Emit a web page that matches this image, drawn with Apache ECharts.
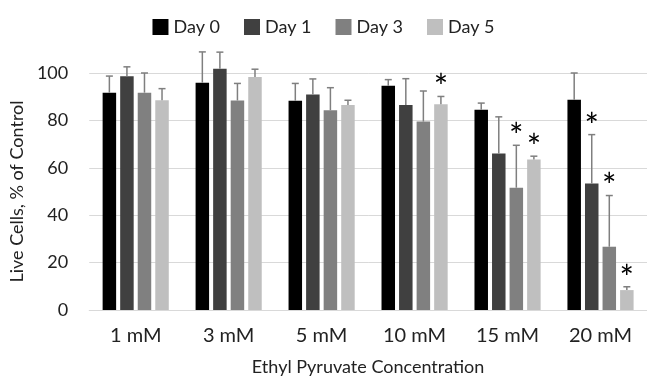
<!DOCTYPE html>
<html>
<head>
<meta charset="utf-8">
<script src="https://cdn.jsdelivr.net/npm/echarts@6/dist/echarts.min.js"></script>
<style>
html,body{margin:0;padding:0;background:#fff;}
#chart{width:647px;height:381px;}
</style>
</head>
<body>
<div id="chart"></div>
<script>
// categories / values
var categories = ['1 mM', '3 mM', '5 mM', '10 mM', '15 mM', '20 mM'];
var dayNames = ['Day 0', 'Day 1', 'Day 3', 'Day 5'];

var day0 = [91.7, 95.9, 88.3, 94.6, 84.5, 88.7];
var day1 = [98.6, 101.8, 90.9, 86.5, 66.0, 53.4];
var day3 = [91.7, 88.4, 84.3, 79.5, 51.6, 26.7];
var day5 = [88.5, 98.3, 86.5, 86.8, 63.5, 8.4];

// upper error (SD)
var day0Err = [7.0, 13.0, 7.3, 2.6, 2.8, 11.3];
var day1Err = [4.0, 7.0, 6.6, 11.1, 15.5, 20.6];
var day3Err = [8.3, 7.2, 9.5, 12.9, 17.9, 21.6];
var day5Err = [4.9, 3.3, 2.0, 3.3, 1.4, 1.4];

// significance stars
var day0Sig = [0, 0, 0, 0, 0, 0];
var day1Sig = [0, 0, 0, 0, 0, 1];
var day3Sig = [0, 0, 0, 0, 1, 1];
var day5Sig = [0, 0, 0, 1, 1, 1];

var yTicks = [0, 20, 40, 60, 80, 100];

var colors = ['#000000', '#404040', '#808080', '#bfbfbf'];
var font = 'Lato';
var barW = 13.5;
var barGapPx = 4.05;

var allVals = [day0, day1, day3, day5];
var allErr = [day0Err, day1Err, day3Err, day5Err];
var allSig = [day0Sig, day1Sig, day3Sig, day5Sig];

//error bar data: [cat, series, value, err, sig]
var errData = [];
for (var s = 0; s < 4; s++) {
	for (var c = 0; c < categories.length; c++) {
		errData.push([c, s, allVals[s][c], allErr[s][c], allSig[s][c]]);
	}
}

function barOffset(s) {
	var total = 4 * barW + 3 * barGapPx;
	return -total / 2 + barW / 2 + s * (barW + barGapPx);
}

function renderErr(params, api) {
	var c = api.value(0), s = api.value(1);
	var v = api.value(2), e = api.value(3), sig = api.value(4);
	var x = api.coord([c, 0])[0] + barOffset(s);
	var y1 = api.coord([c, v])[1];
	var y2 = api.coord([c, v + e])[1];
	var style = { stroke: '#7f7f7f', lineWidth: 1.5 };
	var children = [
		{ type: 'line', shape: { x1: x, y1: y1, x2: x, y2: y2 }, style: style },
		{ type: 'line', shape: { x1: x - 3.5, y1: y2, x2: x + 3.5, y2: y2 }, style: style }
	];
	if (sig) {
		//星号
		children.push({
			type: 'text',
			style: {
				text: '*', x: x, y: y2 - 8,
				fill: '#000', font: '34px ' + font,
				align: 'center', verticalAlign: 'middle'
			}
		});
	}
	return { type: 'group', children: children };
}

var chart = echarts.init(document.getElementById('chart'));

var series = [];
for (var i = 0; i < 4; i++) {
	series.push({
		name: dayNames[i],
		type: 'bar',
		data: allVals[i],
		barWidth: barW,
		barGap: (barGapPx / barW * 100) + '%',
		clip: false,
		itemStyle: { color: colors[i] }
	});
}
series.push({
	type: 'custom',
	renderItem: renderErr,
	data: errData,
	encode: { x: 0, y: 2 },
	clip: false,
	z: 5,
	silent: true
});

var option = {
	animation: false,
	backgroundColor: '#fff',
	textStyle: { fontFamily: font },
	legend: {
		data: dayNames,
		top: 13,
		left: 'center',
		itemWidth: 16,
		itemHeight: 16,
		itemGap: 24,
		icon: 'rect',
		textStyle: { fontFamily: font, fontSize: 18, color: '#222' }
	},
	grid: { left: 85, right: -12, top: 73, bottom: 66 },
	xAxis: {
		type: 'category',
		data: categories,
		name: 'Ethyl Pyruvate Concentration',
		nameLocation: 'middle',
		nameGap: 48,
		nameTextStyle: { fontFamily: font, fontSize: 18, color: '#222' },
		axisLine: { lineStyle: { color: '#d9d9d9', width: 1 } },
		axisTick: { show: false },
		axisLabel: { fontFamily: font, fontSize: 20, color: '#222', margin: 16 }
	},
	yAxis: {
		type: 'value',
		min: yTicks[0],
		max: yTicks[yTicks.length - 1],
		interval: 20,
		name: 'Live Cells, % of Control',
		nameLocation: 'middle',
		nameGap: 58,
		nameTextStyle: { fontFamily: font, fontSize: 18, color: '#222' },
		axisLine: { show: false },
		axisTick: { show: false },
		axisLabel: { fontFamily: font, fontSize: 18, color: '#222', margin: 21 },
		splitLine: { lineStyle: { color: '#d9d9d9', width: 1 } }
	},
	series: series
};

chart.setOption(option);
</script>
</body>
</html>
